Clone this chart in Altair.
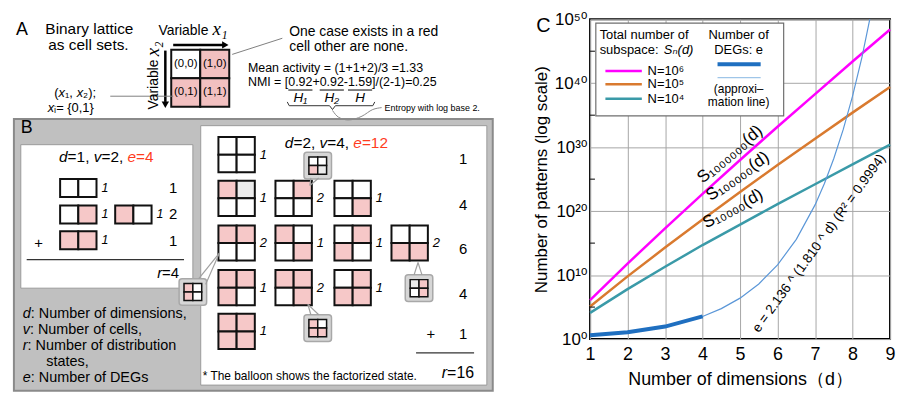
import altair as alt
import pandas as pd

SANS = "Liberation Sans, Arial, DejaVu Sans, sans-serif"
SERIF = "Liberation Serif, DejaVu Serif, serif"

# ================= Panel C values =================
dims = [1, 2, 3, 4, 5, 6, 7, 8, 9]
series_names = ["N=10⁶", "N=10⁵", "N=10⁴"]
series_colors = ["#ff00ff", "#d97a2f", "#3a9aa8"]
s_n6_log10 = [6.1, 11.8, 17.3, 22.7, 28.0, 33.2, 38.3, 43.4, 48.4]
s_n5_log10 = [5.1, 9.8, 14.3, 18.7, 23.0, 27.2, 31.3, 35.4, 39.4]
s_n4_log10 = [4.1, 7.8, 11.3, 14.7, 17.9, 21.1, 24.2, 27.3, 30.4]
deg_d = [1, 2, 3, 4]
deg_e = [4, 12, 90, 3450]
approx_d = [1, 2, 3, 4, 4.5, 5, 5.5, 6, 6.5, 7, 7.25, 7.5, 7.75, 8, 8.25, 8.46]
approx_log10 = [0.6, 1.08, 1.95, 3.54, 4.76, 6.4, 8.62, 11.59, 15.59, 20.98,
                24.33, 28.22, 32.74, 37.97, 44.04, 50.0]
y_major_exp = [0, 10, 20, 30, 40, 50]
y_minor_exp = [5, 15, 25, 35, 45]

# ================= Panel A / B diagram contents =================
PINK_A = "#f2c0c0"
PINK_B = "#f6c8c8"
LIGHT = "#ebebeb"
RED = "#ff3c1e"
a_cells = ["(0,0)", "(1,0)", "(0,1)", "(1,1)"]
a_pattern = "wppp"

b1_rows_y = [173, 201, 228]
b1_cols_x = [[57], [57, 113], [57]]
b1_patterns = [["ww"], ["wp", "pw"], ["pp"]]
b1_mult = [[1], [1, 1], [1]]
b1_counts = [1, 2, 1]
b1_count_y = [183, 210, 238]

b2_rows_y = [129, 175, 222, 269, 315]
b2_cols_x = [218, 276, 336, 394]
b2_patterns = [["wwww"], ["pgww", "wpww", "wwwp"], ["ppww", "pwwp", "wppw", "wwpp"],
               ["pppw", "ppwp", "wppp"], ["pppp"]]
b2_mult = [[1], [1, 2, 1], [2, 1, 1, 2], [1, 2, 1], [1]]
b2_counts = [1, 4, 6, 4, 1]
b2_count_y = [152, 200, 247, 294, 336]

balloon_xy = [(305, 145), (178, 278), (408, 274), (305, 316)]
balloon_patterns = ["wwpg", "pwpw", "gpwp", "pwpp"]
balloon_tails = [((312, 172), (320, 172), (311, 180)),
                 ((198, 278), (205, 284), (219, 251)),
                 ((417, 274), (425, 274), (421, 261)),
                 ((312, 316), (320, 316), (309, 305))]

# ---------- text width helper (Arial metrics) ----------
_W = {}
for chs, w in [(" ,./:;I[]\\!ft", 278), ("ijl", 222), ("()-r", 333), ("cksvxyzJ", 500),
               ("=+<>", 584), ("FTZ", 611), ("ABEKPSVXY", 667), ("CDHNRUw", 722),
               ("GOQ", 778), ("Mm", 833), ("W", 944), ("₀₁₂₃₄₅₆₇₈₉ᵢₙ", 350), ("*", 389)]:
    for c in chs:
        _W[c] = w


def tw(s, size):
    return sum(_W.get(c, 556) for c in s) / 1000.0 * size


# ================= LEFT DIAGRAM (panels A and B) =================
LX = [5, 500]
LY = [5, 398]
LW, LH = 490, 376
SX = LW / (LX[1] - LX[0])
lxs = alt.Scale(domain=LX, nice=False, zero=False)
lys = alt.Scale(domain=LY, nice=False, zero=False, reverse=True)


def LXe(f):
    return alt.X(f + ":Q", scale=lxs, axis=None)


def LYe(f):
    return alt.Y(f + ":Q", scale=lys, axis=None)


base_rects, balloon_rects, balloon_cells = [], [], []
rules, texts, heads, brace_pts, curve_pts = [], [], [], [], []


def R(lst, x, y, x2, y2, fill, stroke, sw):
    lst.append(dict(x=x, y=y, x2=x2, y2=y2, fill=fill, stroke=stroke, sw=sw))


def lattice(lst, x0, y0, w, h, pattern, ncols, nrows, fills, sw=2.0):
    cw, ch = w / ncols, h / nrows
    for i, c in enumerate(pattern):
        r, k = divmod(i, ncols)
        R(lst, x0 + k * cw, y0 + r * ch, x0 + (k + 1) * cw, y0 + (r + 1) * ch,
          fills[c], "#111111", sw)


def T(x, y, text, size, color="black", align="left", style="normal", font=SANS, angle=0):
    texts.append(dict(x=x, y=y, text=text, size=size, color=color, align=align,
                      style=style, font=font, angle=float(angle)))


def rich(x, y, parts, size, align="left", font=SANS):
    total = sum(tw(p[0], size) for p in parts) / SX
    start = x if align == "left" else (x - total / 2 if align == "center" else x - total)
    for p in parts:
        t, st = p[0], p[1]
        col = p[2] if len(p) > 2 else "black"
        T(start, y, t, size, color=col, style=st, font=font)
        start += tw(t, size) / SX


def L(x, y, x2, y2, col="black", sw=1.0):
    rules.append(dict(x=x, y=y, x2=x2, y2=y2, col=col, sw=sw))


FA = {"w": "white", "p": PINK_A, "g": LIGHT}
FB = {"w": "white", "p": PINK_B, "g": LIGHT}

# ---- panel B frames ----
R(base_rects, 10, 110, 497, 396, "#c0c0c0", "#8a8a8a", 2)
R(base_rects, 17, 137, 192, 288, "white", "#9a9a9a", 1)
R(base_rects, 200, 117, 491, 390, "white", "#9a9a9a", 1)

# ---- panel A ----
lattice(base_rects, 170, 37, 59, 60, a_pattern, 2, 2, FA, 2.0)
for i, lab in enumerate(a_cells):
    r, k = divmod(i, 2)
    T(170 + 14.75 + k * 29.5, 37 + 15 + r * 30, lab, 11.5, align="center")
T(12, 16, "A", 18)
T(42, 15, "Binary lattice", 15.5)
T(45, 32, "as cell sets.", 15.5)
T(157, 17, "Variable", 14)
T(212, 15, "x₁", 19, style="italic", font=SERIF)
T(152, 100, "Variable", 14, angle=270)
T(152, 44, "x₂", 19, style="italic", font=SERIF, angle=270)
L(172, 32, 223, 32, sw=2.5)
heads.append(dict(x=225, y=32, shape="triangle-right", size=55))
L(164, 38, 164, 92, sw=2.5)
heads.append(dict(x=164, y=95, shape="triangle-down", size=55))
rich(72, 83, [("(", "normal"), ("x", "italic"), ("₁, ", "normal"), ("x", "italic"), ("₂);", "normal")], 13, "center")
rich(72, 98, [("x", "italic"), ("ᵢ= {0,1}", "normal")], 13, "center")
L(108, 86, 172, 86, col="#7f7f7f", sw=1)
L(283, 25, 232, 42, col="#7f7f7f", sw=1)
T(290, 18, "One case exists in a red", 14)
T(290, 34, "cell other are none.", 14)
FS_EQ = 12.5
T(248, 56, "Mean activity = (1+1+2)/3 =1.33", FS_EQ)
nmi = "NMI = [0.92+0.92-1.59]/(2-1)=0.25"
T(248, 71, nmi, FS_EQ)
for pre, num, hl in [("NMI = [", "0.92", "H₁"), ("NMI = [0.92+", "0.92", "H₂"), ("NMI = [0.92+0.92-", "1.59", "H")]:
    x0 = 248 + tw(pre, FS_EQ) / SX
    x1 = x0 + tw(num, FS_EQ) / SX
    L(x0, 79.5, x1, 79.5, sw=1)
    T((x0 + x1) / 2, 88, hl, 13.5, align="center", style="italic")
for i, (px, py) in enumerate([(288, 92), (290, 96), (331, 96), (334, 100), (337, 96), (375, 96), (377, 92)]):
    brace_pts.append(dict(x=px, y=py, i=i))
for i, (px, py) in enumerate([(334, 101), (340, 108), (350, 111), (364, 107), (375, 100), (384, 98)]):
    curve_pts.append(dict(x=px, y=py, i=i))
T(387, 98, "Entropy with log base 2.", 9)

# ---- panel B, box 1 (d=1) ----
T(17, 120, "B", 18)
rich(104, 150, [("d", "italic"), ("=1, ", "normal"), ("v", "italic"), ("=2, ", "normal"),
                ("e", "italic", RED), ("=4", "normal", RED)], 15.5, "center")
for ry, cols, pats, mults, cnt, cy in zip(b1_rows_y, b1_cols_x, b1_patterns, b1_mult, b1_counts, b1_count_y):
    for cx, pat, m in zip(cols, pats, mults):
        lattice(base_rects, cx, ry, 37, 19, pat, 2, 1, FB, 2.0)
        T(cx + 42, ry + 9.5, str(m), 12.5, style="italic")
    T(172, cy, str(cnt), 15, align="center")
T(35, 240, "+", 15, align="center")
L(23, 258, 183, 258, col="#333333", sw=1.2)
rich(178, 272, [("r", "italic"), ("=4", "normal")], 15, "right")
rich(19, 315, [("d", "italic"), (" : Number of dimensions,", "normal")], 14.5)
rich(19, 332, [("v", "italic"), (" : Number of cells,", "normal")], 14.5)
rich(19, 349, [("r", "italic"), (" : Number of distribution", "normal")], 14.5)
T(43, 366, "states,", 14.5)
rich(19, 383, [("e", "italic"), ("  : Number of DEGs", "normal")], 14.5)

# ---- panel B, box 2 (d=2) ----
rich(338, 135, [("d", "italic"), ("=2, ", "normal"), ("v", "italic"), ("=4, ", "normal"),
                ("e", "italic", RED), ("=12", "normal", RED)], 15.5, "center")
for ry, pats, mults, cnt, cy in zip(b2_rows_y, b2_patterns, b2_mult, b2_counts, b2_count_y):
    for cx, pat, m in zip(b2_cols_x, pats, mults):
        lattice(base_rects, cx, ry, 37, 37, pat, 2, 2, FB, 2.0)
        T(cx + 42, ry + 18.5, str(m), 13, style="italic")
    T(467, cy, str(cnt), 15, align="center")
T(434, 336, "+", 15, align="center")
L(419, 356, 478, 356, col="#333333", sw=1.2)
rich(478, 377, [("r", "italic"), ("=16", "normal")], 16, "right")
T(202, 380, "* The balloon shows the factorized state.", 12)

# ---- balloons ----
for (bx, by), pat, tail in zip(balloon_xy, balloon_patterns, balloon_tails):
    R(balloon_rects, bx, by, bx + 28, by + 28, "#d6d6d6", "#a8a8a8", 1.5)
    lattice(balloon_cells, bx + 5, by + 5, 18, 18, pat, 2, 2, FB, 1.5)
    (ax, ay), (bx2, by2), (tx, ty) = tail
    L(ax, ay, tx, ty, col="#a0a0a0", sw=1.2)
    L(bx2, by2, tx, ty, col="#a0a0a0", sw=1.2)


def rect_layer(rows, **mk):
    return alt.Chart(pd.DataFrame(rows)).mark_rect(**mk).encode(
        x=LXe("x"), x2="x2:Q", y=LYe("y"), y2="y2:Q",
        fill=alt.Fill("fill:N", scale=None), stroke=alt.Stroke("stroke:N", scale=None),
        strokeWidth=alt.StrokeWidth("sw:Q", scale=None))


left_layers = [
    rect_layer(base_rects),
    rect_layer(balloon_rects, cornerRadius=3),
    rect_layer(balloon_cells),
    alt.Chart(pd.DataFrame(rules)).mark_rule().encode(
        x=LXe("x"), x2="x2:Q", y=LYe("y"), y2="y2:Q",
        stroke=alt.Stroke("col:N", scale=None), strokeWidth=alt.StrokeWidth("sw:Q", scale=None)),
    alt.Chart(pd.DataFrame(heads)).mark_point(filled=True, opacity=1, color="black").encode(
        x=LXe("x"), y=LYe("y"), shape=alt.Shape("shape:N", scale=None),
        size=alt.Size("size:Q", scale=None)),
    alt.Chart(pd.DataFrame(brace_pts)).mark_line(color="#333333", strokeWidth=1).encode(
        x=LXe("x"), y=LYe("y"), order="i:Q"),
    alt.Chart(pd.DataFrame(curve_pts)).mark_line(color="#8a8a8a", strokeWidth=1, interpolate="monotone").encode(
        x=LXe("x"), y=LYe("y"), order="i:Q"),
]
tdf = pd.DataFrame(texts)
for (al, st, fo, an), g in tdf.groupby(["align", "style", "font", "angle"]):
    left_layers.append(
        alt.Chart(g).mark_text(align=al, baseline="middle", fontStyle=st, font=fo, angle=float(an)).encode(
            x=LXe("x"), y=LYe("y"), text="text:N",
            size=alt.Size("size:Q", scale=None), color=alt.Color("color:N", scale=None)))

left = alt.layer(*left_layers).properties(
    width=LW, height=LH, view=alt.ViewBackground(stroke="transparent"))

# ================= PANEL C =================
CW, CH = 302, 322
SUP = str.maketrans("0123456789", "⁰¹²³⁴⁵⁶⁷⁸⁹")
expr = "'10" + str(y_major_exp[-1]).translate(SUP) + "'"
for e in reversed(y_major_exp[:-1]):
    expr = f"datum.value < {3 * 10.0 ** e:.0e} ? '10{str(e).translate(SUP)}' : " + expr

xsc = alt.Scale(domain=[1, 9], nice=False, zero=False)
ysc = alt.Scale(type="log", domain=[1, 1e50], nice=False)
xaxis = alt.Axis(values=dims, title="Number of dimensions（d）", grid=True, gridColor="#a6a6a6",
                 gridWidth=1, tickSize=0, domain=False, labelFontSize=18, labelPadding=7,
                 titleFontSize=18, titlePadding=7, labelFlush=False)
yaxis = alt.Axis(values=[10.0 ** e for e in y_major_exp], labelExpr=expr,
                 title="Number of patterns (log scale)", grid=True, gridColor="#a6a6a6",
                 gridWidth=1, tickSize=0, domain=False, labelFontSize=17, labelPadding=3,
                 titleFontSize=17, titlePadding=4, labelFlush=False)


def CX(f="d"):
    return alt.X(f + ":Q", scale=xsc, axis=xaxis)


def CY(f="v"):
    return alt.Y(f + ":Q", scale=ysc, axis=yaxis)


def to_d(px):
    return 1 + (px - 589) / 39.125


def to_v(py):
    return 10 ** ((343 - py) / 6.68)


s_rows = []
for name, vals in zip(series_names, [s_n6_log10, s_n5_log10, s_n4_log10]):
    for d, lv in zip(dims, vals):
        s_rows.append(dict(d=d, v=10 ** lv, series=name))
approx_df = pd.DataFrame(dict(d=approx_d, v=[10 ** lv for lv in approx_log10]))
deg_df = pd.DataFrame(dict(d=deg_d, v=deg_e))

box_df = pd.DataFrame([dict(d=to_d(595), d2=to_d(791), v=to_v(13), v2=to_v(110))])

c_rules = [dict(d=1, d2=1.13, v=10.0 ** e, col="black", w=1) for e in y_minor_exp]
for py, col in zip([63, 77, 92], series_colors):
    c_rules.append(dict(d=to_d(605), d2=to_d(643), v=to_v(py), col=col, w=2.5))
c_rules.append(dict(d=to_d(722), d2=to_d(767), v=to_v(56), col="#1f6fc0", w=4))
c_rules.append(dict(d=to_d(722), d2=to_d(767), v=to_v(70), col="#9fc5e8", w=1.3))

c_texts = []


def CT(px, py, text, size, align="left", style="normal", angle=0):
    c_texts.append(dict(d=to_d(px), v=to_v(py), text=text, size=size, align=align,
                        style=style, angle=float(angle)))


CT(599, 26, "Total number of", 13)
CT(599, 41, "subspace:", 13)
CT(666, 41, "Sₙ(d)", 13, style="italic")
for py, name in zip([63, 77, 92], series_names):
    CT(649, py, name, 13)
CT(744, 26, "Number of", 13, align="center")
CT(744, 41, "DEGs: e", 13, align="center")
CT(744, 82, "(approxi–", 12, align="center")
CT(744, 95, "mation line)", 12, align="center")
CT(735, 150, "S₁₀₀₀₀₀₀(d)", 17, align="center", angle=320)
CT(743, 173, "S₁₀₀₀₀₀(d)", 17, align="center", angle=325)
CT(738, 207, "S₁₀₀₀₀(d)", 17, align="center", angle=332)
CT(828, 243, "e = 2.136 ^ (1.810 ^ d) (R² = 0.9994)", 13.5, align="center", angle=306)

c_layers = [
    alt.Chart(box_df).mark_rect(fill="white", stroke="#6f6f6f", strokeWidth=1.2).encode(
        x=CX(), x2="d2:Q", y=CY(), y2="v2:Q"),
    alt.Chart(pd.DataFrame(s_rows)).mark_line(strokeWidth=2.5).encode(
        x=CX(), y=CY(),
        color=alt.Color("series:N", scale=alt.Scale(domain=series_names, range=series_colors), legend=None)),
    alt.Chart(approx_df).mark_line(strokeWidth=1.2, color="#5b97d8", clip=True).encode(x=CX(), y=CY()),
    alt.Chart(deg_df).mark_line(strokeWidth=4, color="#1f6fc0").encode(x=CX(), y=CY()),
    alt.Chart(pd.DataFrame(c_rules)).mark_rule().encode(
        x=CX(), x2="d2:Q", y=CY(),
        stroke=alt.Stroke("col:N", scale=None), strokeWidth=alt.StrokeWidth("w:Q", scale=None)),
]
cdf = pd.DataFrame(c_texts)
for (al, st, an), g in cdf.groupby(["align", "style", "angle"]):
    c_layers.append(
        alt.Chart(g).mark_text(align=al, baseline="middle", fontStyle=st, font=SANS,
                               angle=float(an), color="black").encode(
            x=CX(), y=CY(), text="text:N", size=alt.Size("size:Q", scale=None)))
c_layers.append(
    alt.Chart(pd.DataFrame(dict(t=["C"]))).mark_text(fontSize=20, font=SANS, align="center",
                                                      baseline="middle", color="black").encode(
        x=alt.value(-47), y=alt.value(7), text="t:N"))

right = alt.layer(*c_layers).properties(
    width=CW, height=CH, view=alt.ViewBackground(stroke="black", strokeWidth=2))

chart = (alt.hconcat(left, right, spacing=34)
         .properties(padding={"left": 0, "top": 0, "right": 0, "bottom": 0})
         .configure(font=SANS)
         .configure_axis(labelFont=SANS, titleFont=SANS, labelColor="black",
                         titleColor="black", titleFontWeight="normal"))

chart.save("out.html", embed_options={"renderer": "svg", "actions": False})
